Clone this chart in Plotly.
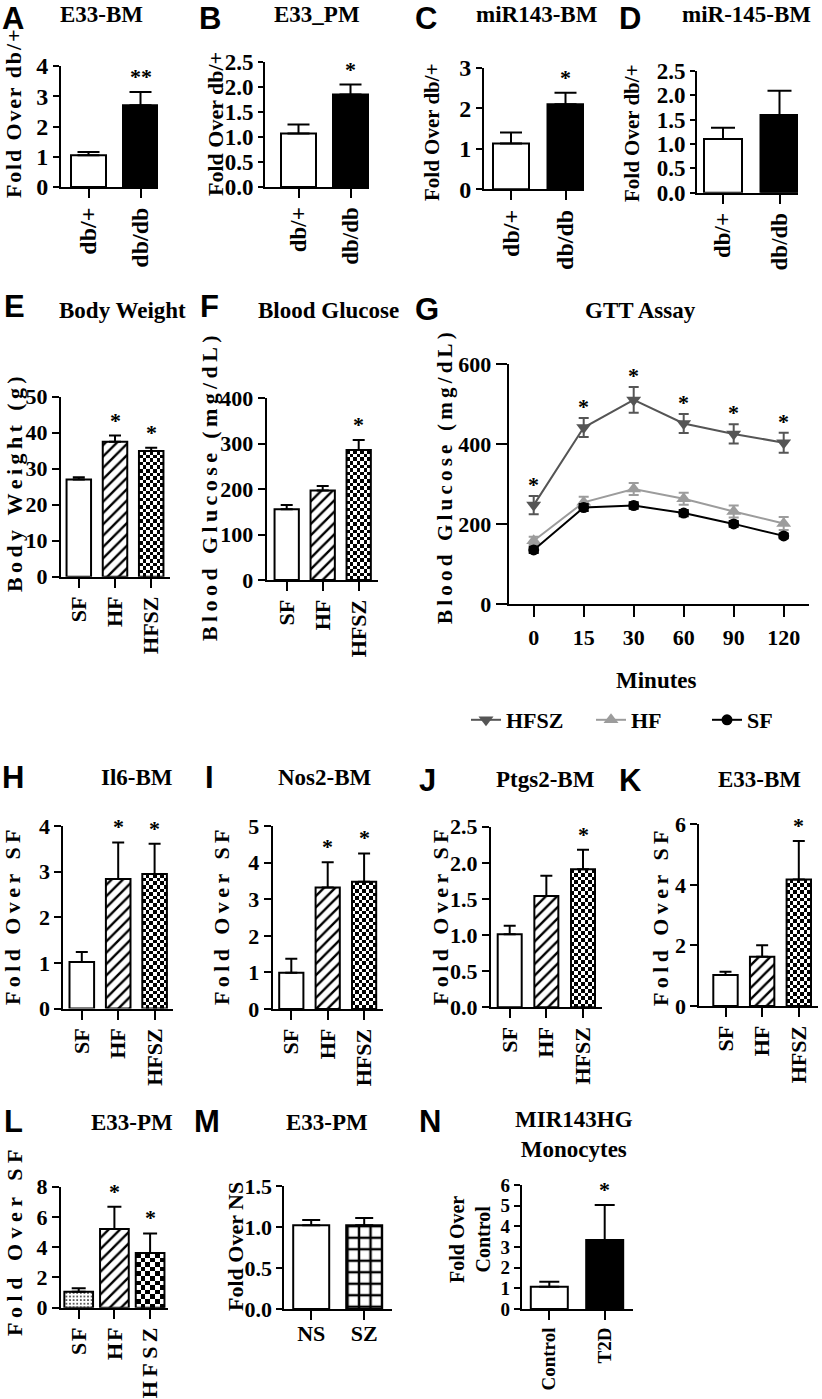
import plotly.graph_objects as go

W, H = 822, 1399

# ---------------- data ----------------
DB_cats = ["db/+", "db/db"]
A_vals = [1.05, 2.70]; A_err = [0.11, 0.44]; A_sig = ["", "**"]
B_vals = [1.07, 1.85]; B_err = [0.18, 0.20]; B_sig = ["", "*"]
C_vals = [1.13, 2.10]; C_err = [0.27, 0.28]; C_sig = ["", "*"]
D_vals = [1.10, 1.59]; D_err = [0.23, 0.50]; D_sig = ["", ""]

GRP_cats = ["SF", "HF", "HFSZ"]
E_vals = [27.0, 37.5, 34.9]; E_err = [0.6, 1.7, 0.9]; E_sig = ["", "*", "*"]
F_vals = [156, 197, 286]; F_err = [9, 10, 22]; F_sig = ["", "", "*"]

G_minutes = ["0", "15", "30", "60", "90", "120"]
G_HFSZ = [248, 442, 511, 452, 426, 404]; G_HFSZ_err = [23, 24, 32, 24, 24, 25]
G_HF = [159, 255, 288, 264, 232, 202]; G_HF_err = [10, 14, 15, 15, 15, 16]
G_SF = [136, 242, 247, 228, 201, 171]; G_SF_err = [8, 9, 8, 8, 7, 6]
G_sig = ["*", "*", "*", "*", "*", "*"]

H_vals = [1.02, 2.84, 2.95]; H_err = [0.22, 0.80, 0.66]; H_sig = ["", "*", "*"]
I_vals = [0.99, 3.32, 3.48]; I_err = [0.38, 0.69, 0.77]; I_sig = ["", "*", "*"]
J_vals = [1.01, 1.54, 1.91]; J_err = [0.12, 0.28, 0.27]; J_sig = ["", "", "*"]
K_vals = [1.02, 1.63, 4.18]; K_err = [0.11, 0.38, 1.27]; K_sig = ["", "", "*"]
L_vals = [1.06, 5.20, 3.61]; L_err = [0.22, 1.48, 1.30]; L_sig = ["", "*", "*"]

M_cats = ["NS", "SZ"]
M_vals = [1.02, 1.02]; M_err = [0.065, 0.09]; M_sig = ["", ""]
N_cats = ["Control", "T2D"]
N_vals = [1.08, 3.34]; N_err = [0.24, 1.69]; N_sig = ["", "*"]

# ---------------- layout geometry (pixels) ----------------
GEO = {
    'A': dict(x0=61, x1=158, c0=88.5, d=52, bw=35, ybot=187, ytop=66, ymax=4, dtick=1, fmt='', ew=11, tf=24, ytl=6),
    'B': dict(x0=265, x1=369, c0=298.5, d=52, bw=35, ybot=187, ytop=62, ymax=2.5, dtick=0.5, fmt='.1f', ew=11, tf=23, ytl=5),
    'C': dict(x0=484, x1=584, c0=511, d=54.5, bw=36, ybot=189.3, ytop=67.7, ymax=3, dtick=1, fmt='', ew=11, tf=24, ytl=6),
    'D': dict(x0=697, x1=798, c0=723, d=56.5, bw=38, ybot=192.7, ytop=70.7, ymax=2.5, dtick=0.5, fmt='.1f', ew=12, tf=23, ytl=5),
    'E': dict(x0=61, x1=170, c0=78.8, d=36.2, bw=24.5, ybot=576.7, ytop=396.7, ymax=50, dtick=10, fmt='', ew=6, tf=22, ytl=7),
    'F': dict(x0=266.7, x1=377.7, c0=286.7, d=36, bw=24.3, ybot=580, ytop=398.3, ymax=400, dtick=100, fmt='', ew=6, tf=22, ytl=7),
    'G': dict(x0=508.7, x1=809, c0=533.7, d=50, ybot=604.3, ytop=364.3, ymax=600, dtick=200, fmt='', tf=22, ytl=11),
    'H': dict(x0=63.3, x1=173.3, c0=81.8, d=36.4, bw=24.6, ybot=1008.5, ytop=826, ymax=4, dtick=1, fmt='', ew=6, tf=22, ytl=7),
    'I': dict(x0=272.7, x1=382.7, c0=291.3, d=36.4, bw=24.2, ybot=1009, ytop=826, ymax=5, dtick=1, fmt='', ew=6, tf=22, ytl=7),
    'J': dict(x0=491, x1=601.7, c0=509.7, d=36.65, bw=24, ybot=1007.3, ytop=826.7, ymax=2.5, dtick=0.5, fmt='.1f', ew=6, tf=22, ytl=7),
    'K': dict(x0=699.3, x1=817.7, c0=725.5, d=36.65, bw=24.4, ybot=1006, ytop=824.3, ymax=6, dtick=2, fmt='', ew=6, tf=22, ytl=7),
    'L': dict(x0=61, x1=168, c0=78.7, d=35.7, bw=28.7, ybot=1307.7, ytop=1186.7, ymax=8, dtick=2, fmt='', ew=7, tf=22, ytl=7),
    'M': dict(x0=284.3, x1=391.7, c0=311.2, d=53, bw=36, ybot=1309, ytop=1186, ymax=1.5, dtick=0.5, fmt='.1f', ew=9, tf=22, ytl=6),
    'N': dict(x0=521.7, x1=633.3, c0=549.3, d=55.4, bw=37, ybot=1309, ytop=1185, ymax=6, dtick=1, fmt='', ew=10, tf=19, ytl=6),
}
ORDER = list("ABCDEFGHIJKLMN")

SERIF = "Liberation Serif"
SANS = "Liberation Sans"
HAIR = "\u200a"
THIN = "\u2009"


def spaced(s, sep):
    return sep.join(s)


def px(xp):
    return xp / W


def py(yp):
    return 1 - yp / H


fig = go.Figure()
layout = dict(width=W, height=H, margin=dict(l=0, r=0, t=0, b=0, autoexpand=False),
              paper_bgcolor='white', plot_bgcolor='rgba(0,0,0,0)',
              barmode='overlay', showlegend=True)
annotations = []


def refs(key):
    i = ORDER.index(key) + 1
    s = '' if i == 1 else str(i)
    return 'x' + s, 'y' + s, 'xaxis' + s, 'yaxis' + s


def make_axes(key, ticktext, tickangle=-90, xticklen=9, standoff=0):
    g = GEO[key]
    xr, yr, xa, ya = refs(key)
    n = len(ticktext)
    xd = dict(domain=[px(g['x0']), px(g['x1'])],
              range=[(g['x0'] - g['c0']) / g['d'], (g['x1'] - g['c0']) / g['d']],
              tickmode='array', tickvals=list(range(n)), ticktext=ticktext,
              tickangle=tickangle, showline=True, linewidth=2, linecolor='black',
              ticks='outside', ticklen=xticklen, tickwidth=2, tickcolor='black',
              showgrid=False, zeroline=False, anchor=yr, fixedrange=True,
              automargin=False, ticklabelstandoff=standoff,
              tickfont=dict(family=SERIF, size=g['tf'], color='black', weight='bold'))
    yd = dict(domain=[py(g['ybot']), py(g['ytop'])], range=[0, g['ymax']],
              tickmode='linear', tick0=0, dtick=g['dtick'], tickformat=g['fmt'],
              showline=True, linewidth=2, linecolor='black',
              ticks='outside', ticklen=g['ytl'], tickwidth=2, tickcolor='black',
              showgrid=False, zeroline=False, anchor=xr, fixedrange=True,
              automargin=False,
              tickfont=dict(family=SERIF, size=g['tf'], color='black', weight='bold'))
    layout[xa] = xd
    layout[ya] = yd


def checker(key, c, w_units, v, cell):
    g = GEO[key]
    xr, yr, _, _ = refs(key)
    ppy = (g['ybot'] - g['ytop']) / g['ymax']
    m = max(1, round(w_units * g['d'] / cell))
    n = max(1, round(v * ppy / cell))
    dx = w_units / m
    dy = v / n
    z = [[(r + col) % 2 for col in range(m)] for r in range(n)]
    fig.add_trace(go.Heatmap(z=z, x0=c - w_units / 2 + dx / 2, dx=dx, y0=dy / 2, dy=dy,
                             colorscale=[[0, 'white'], [1, 'black']], zmin=0, zmax=1,
                             showscale=False, hoverinfo='skip', xaxis=xr, yaxis=yr))


STYLE = {
    'white': dict(color='white', shape=None),
    'black': dict(color='black', shape=None),
    'hatch': dict(color='white', shape='/', size=8, sol=0.3, fg='black'),
    'dots': dict(color='white', shape='.', size=3.6, sol=0.22, fg='#333333'),
    'grid': dict(color='white', shape='+', size=11.5, sol=0.38, fg='black'),
    'checker': dict(color='rgba(0,0,0,0)', shape=None),
}


def star(key, x, y, text, yshift=0, size=22):
    xr, yr, _, _ = refs(key)
    annotations.append(dict(x=x, y=y, xref=xr, yref=yr, text=text, showarrow=False,
                            yanchor='bottom', xanchor='center', yshift=yshift,
                            font=dict(family=SERIF, size=size, color='black', weight='bold')))


def bar_panel(key, cats, vals, errs, sigs, fills, ticktext=None, tickangle=-90,
              checker_cell=3.6, standoff=0):
    g = GEO[key]
    xr, yr, _, _ = refs(key)
    w = g['bw'] / g['d']
    for xi, (f, v, e) in enumerate(zip(fills, vals, errs)):
        if f == 'checker':
            checker(key, xi, w, v, checker_cell)
        s = STYLE[f]
        marker = dict(color=s['color'], line=dict(color='black', width=2))
        if s['shape']:
            marker['pattern'] = dict(shape=s['shape'], size=s['size'], solidity=s['sol'],
                                     fgcolor=s['fg'], bgcolor=s['color'], fillmode='replace')
        fig.add_trace(go.Bar(
            x=[xi], y=[v], width=w, marker=marker,
            error_y=dict(type='data', array=[e], arrayminus=[0], symmetric=False,
                         color='black', thickness=2, width=g['ew']),
            xaxis=xr, yaxis=yr, showlegend=False, hoverinfo='skip'))
    make_axes(key, ticktext if ticktext is not None else cats, tickangle=tickangle,
              standoff=standoff)
    for xi, (v, e, s) in enumerate(zip(vals, errs, sigs)):
        if s:
            star(key, xi, v + e, s, yshift=1)


# ---------------- panels ----------------
bar_panel('A', DB_cats, A_vals, A_err, A_sig, ['white', 'black'])
bar_panel('B', DB_cats, B_vals, B_err, B_sig, ['white', 'black'])
bar_panel('C', DB_cats, C_vals, C_err, C_sig, ['white', 'black'])
bar_panel('D', DB_cats, D_vals, D_err, D_sig, ['white', 'black'])
bar_panel('E', GRP_cats, E_vals, E_err, E_sig, ['white', 'hatch', 'checker'])
bar_panel('F', GRP_cats, F_vals, F_err, F_sig, ['white', 'hatch', 'checker'])
bar_panel('H', GRP_cats, H_vals, H_err, H_sig, ['white', 'hatch', 'checker'])
bar_panel('I', GRP_cats, I_vals, I_err, I_sig, ['white', 'hatch', 'checker'])
bar_panel('J', GRP_cats, J_vals, J_err, J_sig, ['white', 'hatch', 'checker'])
bar_panel('K', GRP_cats, K_vals, K_err, K_sig, ['white', 'hatch', 'checker'])
bar_panel('L', GRP_cats, L_vals, L_err, L_sig, ['dots', 'hatch', 'checker'],
          ticktext=[spaced(c, HAIR if len(c) < 3 else THIN) for c in GRP_cats],
          checker_cell=4.5)
bar_panel('M', M_cats, M_vals, M_err, M_sig, ['white', 'grid'], tickangle=0, standoff=-5)
bar_panel('N', N_cats, N_vals, N_err, N_sig, ['white', 'black'])

# GTT line panel
gxr, gyr, _, _ = refs('G')
gx = list(range(len(G_minutes)))
series = [
    ('HFSZ', G_HFSZ, G_HFSZ_err, '#555555', 'triangle-down', 13, 'legend'),
    ('HF', G_HF, G_HF_err, '#9c9c9c', 'triangle-up', 13, 'legend2'),
    ('SF', G_SF, G_SF_err, 'black', 'circle', 11, 'legend3'),
]
for name, vals, errs, col, sym, ms, lg in series:
    fig.add_trace(go.Scatter(
        x=gx, y=vals, name=name, mode='lines+markers',
        line=dict(color=col, width=2),
        marker=dict(color=col, symbol=sym, size=ms, line=dict(width=0)),
        error_y=dict(type='data', array=errs, symmetric=True, color=col, thickness=2, width=5),
        xaxis=gxr, yaxis=gyr, legend=lg, hoverinfo='skip'))
make_axes('G', G_minutes, tickangle=0, xticklen=11, standoff=1)
for xi, (v, e, s) in enumerate(zip(G_HFSZ, G_HFSZ_err, G_sig)):
    if s:
        star('G', xi, v + e, s, yshift=-3)

legend_common = dict(orientation='h', xanchor='left', yanchor='middle', y=py(720),
                     bgcolor='rgba(0,0,0,0)', borderwidth=0,
                     font=dict(family=SERIF, size=22, color='black', weight='bold'))
layout['legend'] = dict(x=px(466), **legend_common)
layout['legend2'] = dict(x=px(591), **legend_common)
layout['legend3'] = dict(x=px(707), **legend_common)

# ---------------- text annotations ----------------
LETTERS = [('A', 0, 18), ('B', 197, 18), ('C', 413, 18), ('D', 617, 18),
           ('E', 2, 306), ('F', 198, 306), ('G', 413, 309),
           ('H', 0, 777), ('I', 203, 777), ('J', 417, 780), ('K', 617, 780),
           ('L', 2, 1121), ('M', 192, 1121), ('N', 417, 1121)]
for t, x, y in LETTERS:
    annotations.append(dict(x=px(x), y=py(y), xref='paper', yref='paper', text=t,
                            showarrow=False, xanchor='left', yanchor='middle',
                            font=dict(family=SANS, size=31, color='black', weight='bold')))

TITLES = [('E33-BM', 101, 15), ('E33_PM', 317, 15), ('miR143-BM', 537, 15),
          ('miR-145-BM', 746, 15),
          ('Body Weight', 122, 310), ('Blood Glucose', 328, 310), ('GTT Assay', 640, 310),
          ('Il6-BM', 137, 778), ('Nos2-BM', 325, 778), ('Ptgs2-BM', 545, 779),
          ('E33-BM', 759, 779),
          ('E33-PM', 132, 1122), ('E33-PM', 327, 1122),
          ('MIR143HG<br>Monocytes', 574, 1134)]
for t, x, y in TITLES:
    annotations.append(dict(x=px(x), y=py(y), xref='paper', yref='paper', text=t,
                            showarrow=False, xanchor='center', yanchor='middle',
                            font=dict(family=SERIF, size=23, color='black', weight='bold')))

annotations.append(dict(x=px(656), y=py(680), xref='paper', yref='paper', text='Minutes',
                        showarrow=False, xanchor='center', yanchor='middle',
                        font=dict(family=SERIF, size=23, color='black', weight='bold')))

YTITLES = [
    (spaced('Fold Over db/+', HAIR), 13, 114, 22),
    ('Fold Over db/+', 215, 124, 22),
    ('Fold Over db/+', 432, 132, 21),
    ('Fold Over db/+', 632, 133, 21),
    (spaced('Body Weight (g)', THIN), 14, 484, 22),
    (spaced('Blood Glucose (mg/dL)', THIN), 210, 488, 22),
    (spaced('Blood Glucose (mg/dL)', THIN), 445, 478, 21),
    (spaced('Fold Over SF', THIN), 13, 917, 22),
    (spaced('Fold Over SF', THIN), 222, 917, 22),
    (spaced('Fold Over SF', THIN), 441, 917, 22),
    (spaced('Fold Over SF', THIN), 660, 918, 22),
    (spaced('Fold Over SF', ' '), 14, 1243, 22),
    ('Fold Over NS', 235, 1247, 22),
    ('Fold Over<br>Control', 470, 1240, 20),
]
for t, x, y, s in YTITLES:
    annotations.append(dict(x=px(x), y=py(y), xref='paper', yref='paper', text=t,
                            showarrow=False, xanchor='center', yanchor='middle',
                            textangle=-90,
                            font=dict(family=SERIF, size=s, color='black', weight='bold')))

layout['annotations'] = annotations
fig.update_layout(**layout)
fig.write_html("out.html", config={'displayModeBar': False},
               post_script="document.body.style.margin='0px';")
